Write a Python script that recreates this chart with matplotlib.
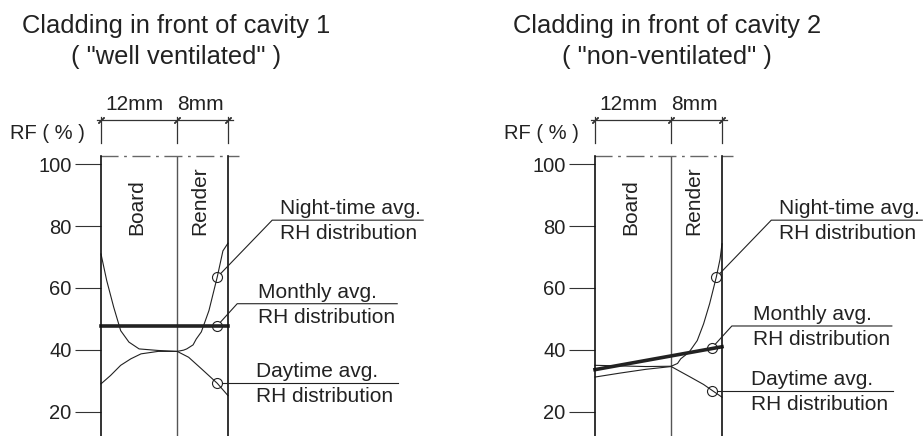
import matplotlib.pyplot as plt
from matplotlib.lines import Line2D
from matplotlib.transforms import IdentityTransform

# wall layers (mm from the cavity face) and RF axis
layer_edges = [0, 12, 20]
layer_names = ["Board", "Render"]
layer_label_x = [5.7, 15.6]
dim_labels = ["12mm", "8mm"]
dim_label_x = [5.3, 15.7]
rf_ticks = [20, 40, 60, 80, 100]

# cavity 1 - "well ventilated"
c1_night_x = [0, 0.9, 2.0, 3.1, 4.4, 6.0, 9.0, 12.0, 13.0, 13.5, 14.5, 15.0, 15.8, 17.0, 18.3, 19.2, 20.0]
c1_night_y = [71.0, 62.4, 53.8, 46.2, 42.5, 40.3, 39.8, 39.5, 39.9, 40.3, 41.6, 43.5, 45.8, 52.7, 63.5, 72.0, 74.5]
c1_day_x = [0, 1.5, 3.1, 4.7, 6.3, 9.0, 12.0, 13.8, 15.8, 18.3, 20.0]
c1_day_y = [29.0, 31.7, 35.0, 37.1, 38.7, 39.5, 39.5, 37.6, 33.9, 29.2, 25.2]
c1_month_x = [0, 20]
c1_month_y = [47.8, 47.8]
c1_mark_x = [18.3, 18.3, 18.3]          # night, monthly, day
c1_mark_y = [63.5, 47.8, 29.2]

# cavity 2 - "non-ventilated"
c2_night_x = [0, 4, 8, 12, 13.0, 13.5, 14.8, 16.1, 17.1, 18.05, 19.1, 19.7, 20]
c2_night_y = [35.0, 34.8, 34.6, 34.7, 35.6, 37.1, 39.2, 43.0, 48.4, 54.9, 63.5, 69.4, 74.3]
c2_day_x = [0, 4, 8, 12, 15.1, 17.1, 18.5, 20]
c2_day_y = [31.2, 32.5, 33.7, 34.6, 31.1, 28.8, 26.8, 24.7]
c2_month_x = [0, 20]
c2_month_y = [33.6, 41.0]
c2_mark_x = [19.1, 18.4, 18.5]
c2_mark_y = [63.5, 40.6, 26.8]

callout_text = [("Night-time avg.", "RH distribution"),
                ("Monthly avg.", "RH distribution"),
                ("Daytime avg.", "RH distribution")]

plt.rcParams['font.family'] = ['Liberation Sans', 'DejaVu Sans']
INK = '#222222'
W, H = 924, 436

fig = plt.figure(figsize=(W / 100, H / 100), dpi=100)


def callout(ax, x, y, dx, dy, length, pad, lines):
    # leader from the circle, then a shelf line with two text rows
    cx, cy = ax.transData.transform((x, y))
    r = 5
    if dx or dy:
        d = (dx ** 2 + dy ** 2) ** 0.5
        xs = [cx + dx / d * r, cx + dx, cx + dx + length]
        ys = [cy + dy / d * r, cy + dy, cy + dy]
    else:
        xs = [cx + r, cx + length]
        ys = [cy, cy]
    fig.add_artist(Line2D(xs, ys, transform=IdentityTransform(), color=INK, lw=0.8))
    ex, ey = cx + dx, cy + dy
    fig.text(ex + pad, ey + 6, lines[0], transform=IdentityTransform(),
             fontsize=15, va='baseline', color=INK)
    fig.text(ex + pad, ey - 19, lines[1], transform=IdentityTransform(),
             fontsize=15, va='baseline', color=INK)


def panel(left_px, title1, title2, title_x, night, day, month, marks):
    ax = fig.add_axes([left_px / W, 0, 127 / W, 280 / H])
    ax.set_xlim(layer_edges[0], layer_edges[-1])
    ax.set_ylim(12.14, 102.68)
    ax.patch.set_alpha(0)

    for s in ['top', 'bottom']:
        ax.spines[s].set_visible(False)
    for s in ['left', 'right']:
        ax.spines[s].set_color('#111111')
        ax.spines[s].set_linewidth(1.2)
    ax.set_xticks([])
    ax.set_yticks(rf_ticks)
    ax.tick_params(axis='y', direction='out', length=18.7, width=0.8,
                   color='#333333', pad=2.5, labelsize=14.5, labelcolor=INK)

    # layer boundary
    ax.axvline(layer_edges[1], color='#555555', lw=1.0)
    # dash-dot top edge
    ax.plot([-0.2, 21.8], [102.68, 102.68], color='#666666', lw=1.0,
            linestyle=(0, (13, 4, 2, 4)), clip_on=False)

    # dimension chain
    for xe in layer_edges:
        ax.plot([xe, xe], [106.9, 115.3], color='#333333', lw=0.9, clip_on=False)
    ax.plot([-0.6, 20.8], [114.3, 114.3], color='#333333', lw=0.9, clip_on=False)
    ax.plot(layer_edges, [114.3] * 3, ls='none', marker=(2, 2, -45),
            markersize=6, mec='#333333', mew=0.9, clip_on=False)
    for lab, xl in zip(dim_labels, dim_label_x):
        ax.text(xl, 119.2, lab, ha='center', va='center', fontsize=15, color=INK)
    ax.text(-14.4, 110.1, "RF ( % )", ha='left', va='center', fontsize=14.5, color=INK)

    for lab, xl in zip(layer_names, layer_label_x):
        ax.text(xl, 77.1, lab, rotation=90, ha='center', va='bottom',
                fontsize=15, color=INK)

    ax.plot(*night, color=INK, lw=0.8, clip_on=False)
    ax.plot(*day, color=INK, lw=0.8, clip_on=False)
    ax.plot(*month, color=INK, lw=2.6, clip_on=False)
    ax.plot(*marks, ls='none', marker='o', markersize=7.2, mfc='none',
            mec=INK, mew=0.8, clip_on=False)

    mx, my = marks
    callout(ax, mx[0], my[0], 55, 57, 151, 8, callout_text[0])
    callout(ax, mx[1], my[1], 20, 22, 160, 21, callout_text[1])
    callout(ax, mx[2], my[2], 0, 0, 181, 39, callout_text[2])

    fig.text(title_x / W, 1 - 33 / H, title1, ha='center', va='baseline',
             fontsize=18.4, color=INK)
    fig.text(title_x / W, 1 - 64 / H, title2, ha='center', va='baseline',
             fontsize=18.4, color=INK)
    return ax


panel(101, "Cladding in front of cavity 1", '( "well ventilated" )', 176,
      (c1_night_x, c1_night_y), (c1_day_x, c1_day_y),
      (c1_month_x, c1_month_y), (c1_mark_x, c1_mark_y))
panel(595, "Cladding in front of cavity 2", '( "non-ventilated" )', 667,
      (c2_night_x, c2_night_y), (c2_day_x, c2_day_y),
      (c2_month_x, c2_month_y), (c2_mark_x, c2_mark_y))

fig.savefig('out.png', dpi=100, facecolor='white')
